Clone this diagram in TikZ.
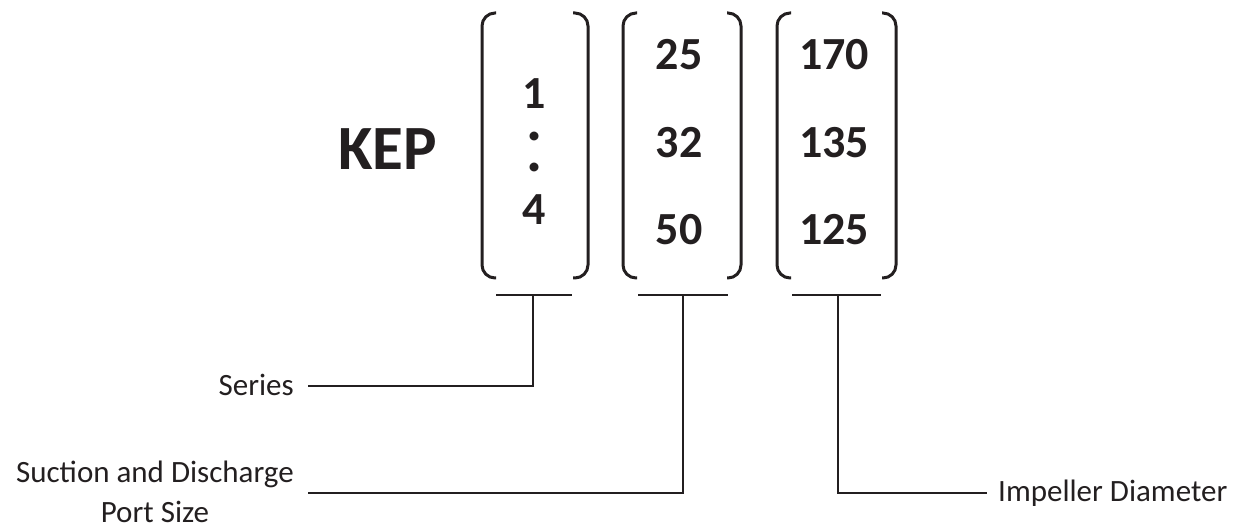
\documentclass[tikz,border=0pt]{standalone}
\usepackage{fontspec}
\setmainfont{Carlito}
\definecolor{ink}{HTML}{231F20}
\begin{document}
\begin{tikzpicture}[x=1pt,y=-1pt,
  brk/.style={draw=ink,line width=3pt,rounded corners=13pt},
  lead/.style={draw=ink,line width=2pt},
  num/.style={text=ink,inner sep=0pt,font=\fontsize{46}{46}\selectfont\bfseries},
  lbl/.style={text=ink,inner sep=0pt,font=\fontsize{31}{40}\selectfont}]
\useasboundingbox (0,0) rectangle (1242,526);
% KEP
\node[text=ink,inner sep=0pt,font=\fontsize{63}{63}\selectfont\bfseries] (kep) at (387.5,149) {KEP};
% brackets
\draw[brk] (496,13) -- (482,13) -- (482,278) -- (496,278);
\draw[brk] (573,13) -- (588,13) -- (588,278) -- (573,278);
\draw[brk] (637,13) -- (623,13) -- (623,278) -- (637,278);
\draw[brk] (727,13) -- (741,13) -- (741,278) -- (727,278);
\draw[brk] (791,13) -- (777,13) -- (777,278) -- (791,278);
\draw[brk] (882,13) -- (896,13) -- (896,278) -- (882,278);
% numbers
\node[num] (n1) at (534,94) {1};
\node[text=ink,inner sep=0pt,anchor=base,align=center,font=\fontsize{60}{31}\selectfont\bfseries] (ncolon) at (535,172) {.\\.};
\node[num] (n4) at (534,210) {4};
\node[num] (n25) at (679,55) {25};
\node[num] (n32) at (679,143) {32};
\node[num] (n50) at (679,230) {50};
\node[num] (n170) at (834,55) {170};
\node[num] (n135) at (834,143) {135};
\node[num] (n125) at (834,230) {125};
% underlines
\coordinate (u1l) at (496,295); \coordinate (u1r) at (572,295); \coordinate (u1m) at (533,295);
\coordinate (u2l) at (638,295); \coordinate (u2r) at (728,295); \coordinate (u2m) at (683,295);
\coordinate (u3l) at (792,295); \coordinate (u3r) at (881,295); \coordinate (u3m) at (838,295);
\draw[lead] (u1l) -- (u1r);
\draw[lead] (u2l) -- (u2r);
\draw[lead] (u3l) -- (u3r);
% labels
\node[lbl,anchor=east] (series) at (294,385) {Series};
\node[lbl,anchor=east,align=center] (suction) at (294,492) {Suction and Discharge\\Port Size};
\node[lbl,anchor=west] (impeller) at (998,493) {Impeller Diameter};
% leaders
\draw[lead] (u1m) |- ([xshift=14pt,yshift=-1pt]series.east);
\draw[lead] (u2m) |- ([xshift=14pt,yshift=-1pt]suction.east);
\draw[lead] (u3m) |- ([xshift=-11pt]impeller.west);
\end{tikzpicture}
\end{document}
